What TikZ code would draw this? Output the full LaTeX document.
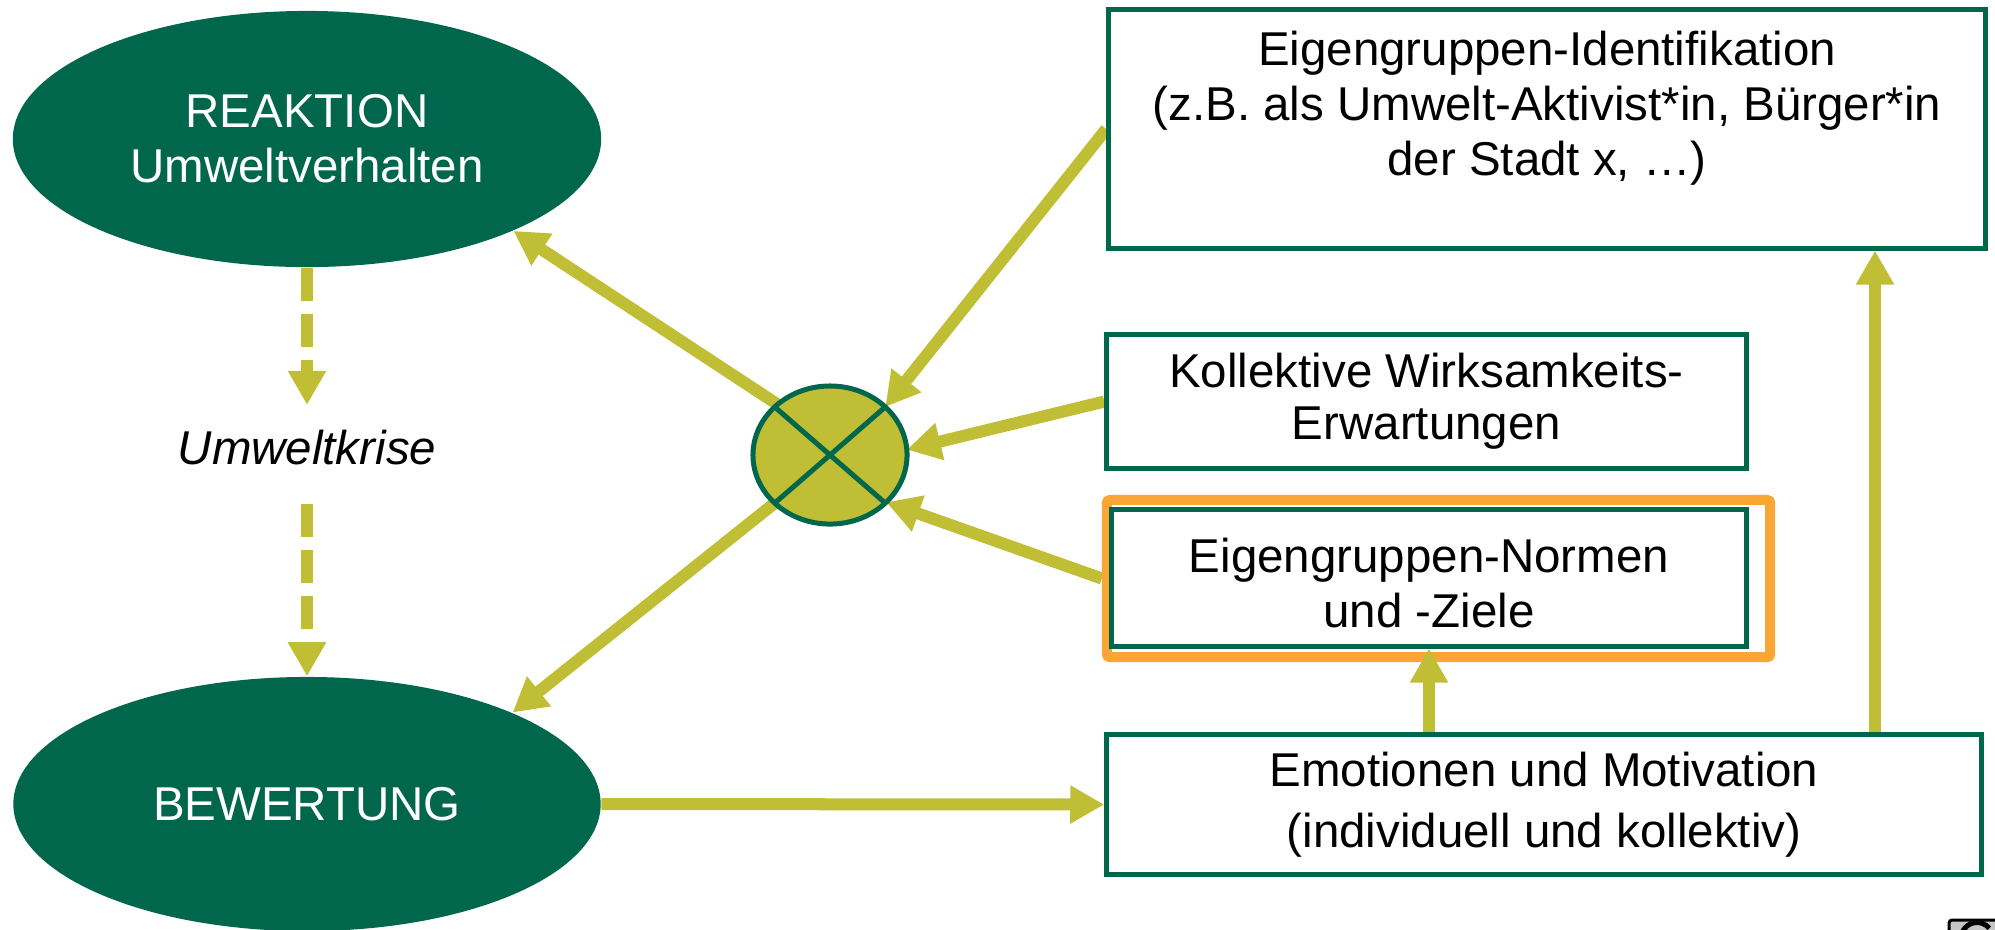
\documentclass[tikz,border=0pt]{standalone}
\usepackage{fontspec}
\setmainfont{Liberation Sans}
\usetikzlibrary{arrows.meta,shapes.geometric,calc}
\pgfdeclarelayer{bg}
\pgfsetlayers{bg,main}
\definecolor{dgreen}{RGB}{0,103,76}
\definecolor{olive}{RGB}{191,190,52}
\definecolor{orng}{RGB}{249,166,52}
\begin{document}
\begin{tikzpicture}[x=0.01cm,y=-0.01cm,
 every node/.style={font=\fontsize{13.5}{15.6}\selectfont, align=center},
 oval/.style={ellipse, fill=dgreen, text=white, inner sep=0pt},
 gbox/.style={rectangle, draw=dgreen, line width=0.05cm, fill=white, inner sep=0pt},
 arr/.style={draw=olive, line width=0.12cm, -{Triangle[width=0.36cm,length=0.34cm]}},
 darr/.style={arr, dash pattern=on 0.33cm off 0.13cm}]
\useasboundingbox (0,0) rectangle (1995,929);
% ellipses
\node[oval, minimum width=5.88cm, minimum height=2.56cm] (reak) at (307,139) {REAKTION\\Umweltverhalten};
\node[oval, minimum width=5.87cm, minimum height=2.54cm] (bew) at (307,804) {BEWERTUNG};
\node[font=\fontsize{13.5}{15.6}\selectfont\itshape, inner sep=0pt] (krise) at (307,448) {Umweltkrise};
% circle with cross
\node[ellipse, fill=olive, draw=dgreen, line width=0.05cm, outer sep=0pt, minimum width=1.54cm, minimum height=1.38cm, inner sep=0pt] (circ) at (830,455) {};
\draw[dgreen, line width=0.05cm] (circ.139) -- (circ.-41) (circ.41) -- (circ.-139);
% boxes
\node[gbox, minimum width=8.76cm, minimum height=2.38cm] (b1) at (1547,129) {};
\node (b1t) at (1547,108) {Eigengruppen-Identifikation\\(z.B. als Umwelt-Aktivist*in, Bürger*in\\der Stadt x, …)};
\node[gbox, minimum width=6.39cm, minimum height=1.33cm] (b2) at (1426.5,401.5) {Kollektive Wirksamkeits-\\[-0.8pt]Erwartungen};
\node[rectangle, draw=orng, line width=0.1cm, fill=white, minimum width=6.63cm, minimum height=1.57cm, rounded corners=0.03cm] (b3o) at (1438.5,578.5) {};
\node[gbox, minimum width=6.34cm, minimum height=1.36cm] (b3) at (1429,578) {};
\node (b3t) at (1429,583) {Eigengruppen-Normen\\und -Ziele};
\node[gbox, minimum width=8.74cm, minimum height=1.39cm] (b4) at (1544,804.5) {Emotionen und Motivation\\[1.7pt](individuell und kollektiv)};
% connectors behind
\begin{pgfonlayer}{bg}
\draw[arr] (circ.136) -- (reak.-24);
\draw[arr] (circ.-139) -- (bew.24);
\draw[arr] (b1.west) -- (circ.41);
\draw[arr] (b2.west) -- (circ.4);
\draw[arr] (b3o.west) -- (circ.-40);
\end{pgfonlayer}
\draw[arr] (bew.east) -- (b4.west);
\draw[arr] (b4.north -| b3.south) -- (b3.south);
\coordinate (up) at (1875,0);
\draw[arr] (b4.north -| up) -- (b1.south -| up);
\draw[darr] (reak.south) -- ([yshift=0.25cm]krise.north);
\draw[darr] ([yshift=-0.38cm]krise.south) -- (bew.north);
% corner icon fragment
\draw[fill=gray!45, line width=0.03cm, rounded corners=0.03cm] (1949,920) rectangle (2010,945);
\draw[line width=0.05cm] (1962,933) arc[start angle=160,end angle=40,radius=0.16cm];
\end{tikzpicture}
\end{document}
